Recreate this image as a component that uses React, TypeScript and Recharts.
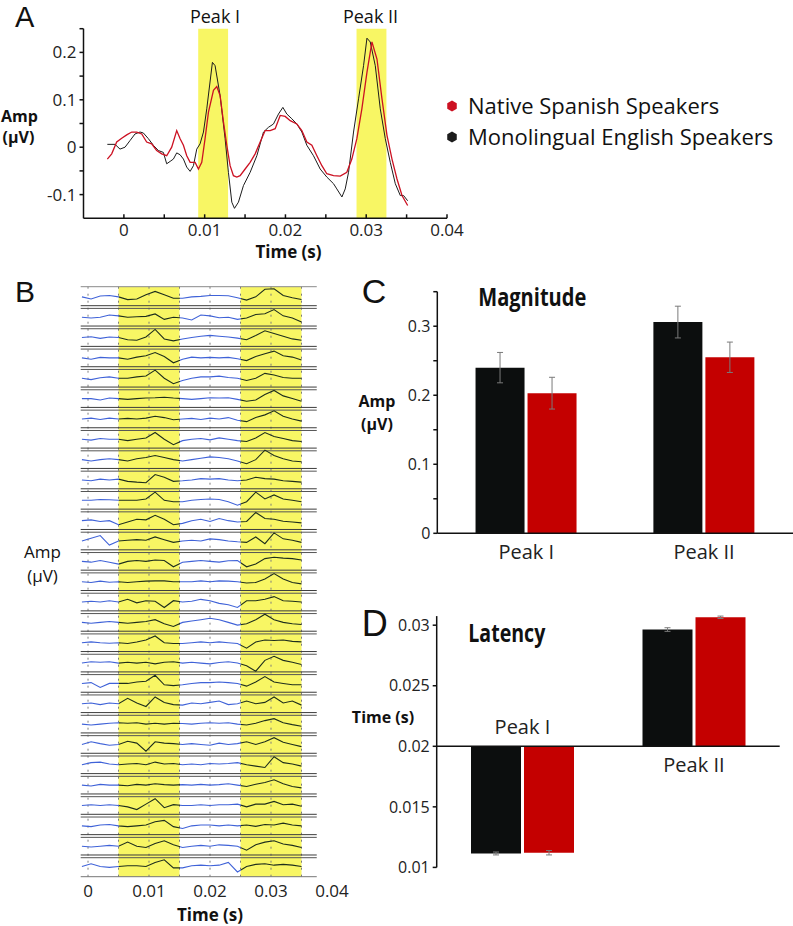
import React from 'react';
import {
  LineChart,
  Line,
  BarChart,
  Bar,
  XAxis,
  YAxis,
  ReferenceArea,
  ReferenceLine,
  ReferenceDot,
  ErrorBar,
  Legend
} from 'recharts';

const FONT = '"Open Sans", "DejaVu Sans", sans-serif';
const LETTER_FONT = '"Liberation Sans", Arial, sans-serif';
const RED = '#cc1122';
const BLACK = '#1c1c1c';
const BAR_RED = '#c40000';
const BAR_BLACK = '#0c0e0e';
const YELLOW = '#f8f664';
const TRACE_BLUE = '#3f62d8';
const TRACE_DARK = '#1e2e1c';

// ---- Panel A: grand average waveforms (time in ms, amplitude in µV)
const ENGLISH_T_MS = [-2.05, -1.1, -0.48, 0.14, 0.76, 1.38, 2.0, 2.41, 3.03, 3.65, 4.27, 4.89, 5.3, 5.72, 6.13, 6.54, 6.96, 7.37, 7.78, 8.2, 8.61, 9.02, 9.43, 9.85, 10.26, 10.96, 11.29, 11.91, 12.53, 12.94, 13.36, 13.69, 14.18, 14.8, 15.63, 16.46, 17.28, 17.9, 18.52, 19.14, 19.68, 20.17, 20.79, 21.41, 22.03, 22.65, 23.47, 24.3, 25.12, 25.95, 26.36, 26.99, 27.4, 27.81, 28.43, 29.05, 29.67, 30.09, 30.5, 31.12, 31.74, 32.36, 32.98, 33.6, 34.22, 34.63, 35.13];
const ENGLISH_AMP = [0.006, 0.006, -0.004, 0, 0.014, 0.028, 0.032, 0.03, 0.018, 0.004, -0.007, -0.011, -0.035, -0.03, -0.025, -0.012, -0.016, -0.025, -0.042, -0.051, -0.039, -0.004, 0.007, 0.032, 0.081, 0.179, 0.172, 0.109, 0.018, -0.053, -0.116, -0.129, -0.116, -0.081, -0.053, -0.018, 0.032, 0.042, 0.049, 0.07, 0.084, 0.07, 0.06, 0.049, 0.032, 0.004, -0.018, -0.046, -0.063, -0.077, -0.088, -0.105, -0.088, -0.053, 0.032, 0.102, 0.172, 0.23, 0.222, 0.172, 0.081, 0.018, -0.032, -0.077, -0.102, -0.102, -0.113];
const SPANISH_T_MS = [-2.05, -1.51, -0.89, -0.27, 0.35, 0.97, 1.59, 2.21, 2.82, 3.44, 4.06, 4.68, 5.3, 5.92, 6.54, 6.96, 7.37, 7.78, 8.2, 8.82, 9.23, 9.64, 10.05, 10.47, 11.09, 11.5, 11.91, 12.33, 12.74, 13.15, 13.56, 13.98, 14.39, 15.01, 15.63, 16.25, 16.87, 17.49, 18.11, 18.73, 19.35, 19.97, 20.59, 21.41, 22.03, 22.65, 23.27, 23.89, 24.51, 25.12, 25.95, 26.78, 27.6, 28.22, 28.84, 29.46, 30.09, 30.71, 31.33, 31.95, 32.57, 33.19, 33.81, 34.43, 35.13];
const SPANISH_AMP = [-0.025, -0.014, 0.011, 0.019, 0.026, 0.032, 0.032, 0.028, 0.011, 0.007, -0.007, -0.014, -0.018, 0, 0.035, 0.018, 0.004, -0.018, -0.032, -0.032, -0.046, -0.032, 0.018, 0.074, 0.12, 0.128, 0.109, 0.053, 0.004, -0.039, -0.06, -0.063, -0.06, -0.046, -0.032, -0.014, 0.011, 0.035, 0.035, 0.039, 0.067, 0.065, 0.056, 0.049, 0.035, 0.011, 0.004, -0.018, -0.039, -0.056, -0.06, -0.061, -0.053, -0.025, 0.018, 0.081, 0.158, 0.222, 0.186, 0.102, 0.025, -0.025, -0.067, -0.102, -0.123];
const A_PEAK_WINDOWS = [[0.0092, 0.0129], [0.0288, 0.0325]];
const A_X_TICKS = [0, 0.005, 0.01, 0.015, 0.02, 0.025, 0.03, 0.035, 0.04];
const A_Y_TICKS = [-0.1, -0.05, 0, 0.05, 0.1, 0.15, 0.2, 0.25];

// ---- Panel B: individual responses, one row per subject (row height = ROW_UNITS)
const B_TIME_MS = [-1, 0.5, 2, 3.5, 5, 6.5, 8, 9.5, 11, 12.5, 14, 15.5, 17, 18.5, 20, 21.5, 23, 24.5, 26, 27.5, 29, 30.5, 32, 33.5, 35];
const B_TRACES = [
  [0, -0.8, 0.3, 0.5, 0, -1, -0.8, 0.8, 2, 0.8, -0.5, -0.5, 0, 0.2, 0.5, 0.5, 0.4, -0.3, -1.2, 0, 2.8, 3, 0.5, -0.3, -1],
  [0, -0.3, 0, 0.8, 0.5, 0, 0.2, 0.3, 1.2, -0.8, 0, -0.3, -1, 0.8, 0.5, -0.2, 0, -0.8, -0.3, 1, 1.3, 2.8, 0.5, -0.3, -1.8],
  [0, 0.3, -0.3, 0.2, 0, -0.8, -1, 0.2, 3, -0.5, -1.2, -0.5, 0, 0.5, 0.8, 0.5, 0.2, -0.2, -0.8, 0.8, 2.5, 1.5, 0.5, -0.5, -1],
  [0, -0.5, 0.2, 0, 0, -0.5, 0.3, 0.8, 2, 0.5, -1.8, -0.5, 0.3, 0, 0.2, 0, 0.2, -0.3, -1, 0.5, 1.5, 2.5, 0.8, 0.3, -0.8],
  [0, -0.5, 0.2, 0.5, 0, 0, 0.5, 0.8, 3, 0, -2, -0.8, 0, 0.5, 0.5, 0.8, 0.3, 0, -0.8, 0, 1.8, 1.2, 0.3, 0, 0],
  [0, 0, -0.5, 0.2, 0, -0.3, 0, 0.2, 0.3, 0.5, 0.2, 0, -0.3, 0, 0.3, 0.2, 0.3, -0.3, -1, -0.5, 1.5, 3, 1, 0, -1],
  [0, 0.3, -0.2, 0.3, 0, 0.2, 0, 0.3, 1, 0.5, -0.3, 0, 0.2, -0.2, 0.3, 0, 0.5, -0.5, -1, 0.5, 1.5, 3, 1, 0, -0.8],
  [0, -0.3, 0.3, 0, 0, -0.5, 0, 0.5, 2.5, 0, -2, -0.5, 0, 0.3, -0.2, 0.5, 0, -0.5, -0.8, 0.5, 2.5, 1, 0.3, -0.5, -0.8],
  [0, -0.5, 0, 0.3, 0, -0.5, 0.3, 0.8, 1.5, 0.8, 0, -0.5, 0, 0.5, 1, 0.8, 0.3, -0.5, -1.5, 0, 3.5, 1.5, 0.3, -0.5, -0.8],
  [0, -0.3, 0.3, 0, 0.3, -0.5, -0.8, -1, 2, 1, -0.5, -0.3, 0, 0.5, 0.3, 0.5, 0, -0.3, 0, 1, 0.5, 0.3, -0.3, -0.5, -0.8],
  [0, 0, 0.3, 0.2, 0, 0, 0, 0.5, 3, 0, -0.5, -0.5, 0, 0.3, 0.5, 0.3, -0.5, -1.8, -0.5, 3, 0.5, 2, 0.5, 0, -0.5],
  [0, 0.3, -0.3, 0, -1.5, -0.5, 0.5, 0.3, 2, 0.5, -1.5, -1, 0, 0.5, -0.3, 0.8, 0, -0.5, -0.3, 3, 0.8, 0.5, -0.2, -0.5, -0.8],
  [0, 1, 2, -1.5, 0, 0.3, 0.5, 0.3, 1.5, 0.5, -0.5, 0, 0.3, 0, 0.8, 0.5, 0, -0.3, -0.5, 1.5, -1, 3, 0.8, 0.3, -0.5],
  [0, -0.3, 0.3, -0.3, -1, 0, 0.3, 0, 0.5, 0.3, -2, -0.3, 0, 0.3, 0, -0.3, 0.2, 0.3, -2, -1, 1, 1.5, 1.2, 1, 0.5],
  [0, -0.3, 0.2, -0.2, 0, -0.3, 0, 0.2, 0.3, 0.3, 0, 0, 0, 0.3, 0, 0.3, 0.2, 0, -0.5, -0.3, 1, 3, 1, -0.3, -0.8],
  [0, 0.3, 0, 0.5, 0, 1, -0.3, 0.5, 0.3, -2, 0.5, 0, 0.3, 1, 0.5, -0.5, -1, -2, 0.5, 0.5, 1, 2, 0.5, 0.3, 0],
  [0, -0.3, 0, 0.3, 0, -0.3, 0, 0.3, 1, -0.5, -1.5, 0, 0.5, 1, 1.5, 1, 0, -1, -0.5, 1, 3, 1, 0, -0.5, -0.8],
  [0, 0.3, 0, -0.2, 0, -0.3, 0.3, 1, 2.5, 0, -0.3, -0.3, 0, 0.3, 0, 0.3, 0, -0.3, -2, 0.3, 1, 0.8, 1, 0.5, 0.3],
  [0, 0.5, 0.3, 0.5, 0, 0.3, 0, 0.3, -0.3, 0.3, 0.5, 0, 0.3, 0, -0.3, 0.2, 0.5, 0, -1, -3, 1, 2.5, 1, 0.3, -0.5],
  [0, 0.3, -1.5, 0, 0, 0, 0.5, 0.8, 3, -0.5, -0.8, -0.5, 0, 0.3, 0.3, 0.5, 0.3, 0, -1, 0.5, 2.5, 0.5, 0, -0.5, -0.5],
  [0, 0.3, -0.3, 0.3, 0, 2, 0.3, -1, 2.5, 0.5, -0.3, -0.5, 0.3, 0, 0.5, 1, -0.3, 0, 1, 0, 0.5, 2.5, 0.3, 1, -0.5],
  [0, -0.3, 0, 0.3, 0.5, 0.3, 0.5, 0, 0.3, 0, 0.3, 0.2, 0, 0.3, 0.5, 0.3, 0.5, 0, -0.3, 0.3, 1.3, 2, 0.5, -0.2, -0.8],
  [0, 1, 0.3, -0.3, 0, 1.2, 0.5, -2.5, 1, 0.5, 0.3, 0, 0.3, 0, -0.3, 0.5, 0, 0.3, 1, 0, 1, 2.5, 0.8, 0, -0.8],
  [0, 0.8, 1, 0.3, 0, 0.3, 0.5, 0, 1, 0.3, 0.5, 0, 0.3, 0, 0.5, 0.3, 0.5, 0.8, 0, -0.5, -1, 3, 0.8, 0.3, -0.5],
  [0, -0.3, 0.3, 0, 0, -0.2, 0.3, 0, 0.5, 0.2, 0, 0.2, 0, 0.3, 0, 0.2, 0.5, 0, -0.5, 0.3, 1, 2, 0.5, -0.5, -1],
  [0, 0.3, 0, 0.3, 0, -0.5, -1.5, 0.5, 2.5, -0.8, 0.3, 0, 0, 0.3, 0, 0.3, 0.3, 0.5, -0.5, 0.5, 0.5, 1.5, 0.3, 0.5, -0.3],
  [0, -0.3, 0.3, 0.5, 0, -0.3, 0, 0.3, 1.5, 2, -0.3, -1, 0, 0.3, 0.3, 0, 0.3, 0, 0.3, -0.2, 0.5, 0.3, 1, 0.3, 0],
  [0, -0.3, 0, 0.3, 0, 1.5, 0, -0.5, 1, 2, 0.5, -0.5, 0, 0.3, 0, 0.5, 0.3, 0, -1.5, 0.5, 1.5, 2, 0.8, 0.3, -0.5],
  [0, 1, 0, -0.3, 0, 0.3, 0.3, 0, 1.5, 2.5, -0.5, -0.5, 0.3, 0.5, 0.3, 0.5, 1.5, -2, 0, 0.8, 1, 0.5, 0.8, 0.5, 0]
];
const B_WINDOWS_MS = [[5, 15], [25, 35]];
const B_GRID = [0, 0.005, 0.01, 0.015, 0.02, 0.025, 0.03, 0.035];
const B_X_TICKS = [0, 0.01, 0.02, 0.03, 0.04];
const ROW_UNITS = 7.5;

// ---- Panels C and D: group means with error bars
const PEAKS = ['Peak I', 'Peak II'];
const MAG_ENGLISH = [0.24, 0.306];
const MAG_ENGLISH_ERR = [0.022, 0.023];
const MAG_SPANISH = [0.203, 0.255];
const MAG_SPANISH_ERR = [0.023, 0.022];
const C_Y_TICKS = [0, 0.05, 0.1, 0.15, 0.2, 0.25, 0.3, 0.35];

const LAT_BASELINE = 0.02;
const LAT_ENGLISH = [0.01115, 0.02964];
const LAT_ENGLISH_ERR = [0.00012, 0.00015];
const LAT_SPANISH = [0.01121, 0.03065];
const LAT_SPANISH_ERR = [0.00018, 0.0001];
const D_Y_TICKS = [-0.01, -0.005, 0, 0.005, 0.01];

const isMultiple = (v: number, step: number) => Math.abs(v / step - Math.round(v / step)) < 1e-6;

const HEX = Array.from({ length: 6 }, (_, k) => {
  const a = Math.PI / 6 + (k * Math.PI) / 3;
  return `${6 + 5.5 * Math.cos(a)},${6 + 5.5 * Math.sin(a)}`;
}).join(' ');

const renderLegend = (props: any) => {
  const items = [...(props.payload || [])].reverse();
  return (
    <div style={{ fontFamily: FONT, fontSize: 22, lineHeight: '31px', color: '#111' }}>
      {items.map((entry: any) => (
        <div key={entry.value} style={{ display: 'flex', alignItems: 'center', whiteSpace: 'nowrap' }}>
          <svg width={12} height={12} style={{ marginRight: 10, flex: 'none' }}>
            <polygon points={HEX} fill={entry.color} />
          </svg>
          {entry.value}
        </div>
      ))}
    </div>
  );
};

const PanelA = () => {
  const englishData = ENGLISH_T_MS.map((ms, i) => ({ t: ms / 1000, amp: ENGLISH_AMP[i] }));
  const spanishData = SPANISH_T_MS.map((ms, i) => ({ t: ms / 1000, amp: SPANISH_AMP[i] }));
  return (
    <LineChart width={470} height={250} margin={{ top: 28.7, right: 23, bottom: 0, left: 0 }}>
      <XAxis
        type="number"
        dataKey="t"
        domain={[-0.005, 0.04]}
        ticks={A_X_TICKS}
        tickFormatter={(v: number) => (isMultiple(v, 0.01) ? String(v) : '')}
        height={31.7}
        stroke="#111"
        strokeWidth={1.5}
        tickSize={-4}
        tickMargin={10}
        tick={{ fontSize: 17, fill: '#222', fontFamily: FONT }}
      />
      <YAxis
        type="number"
        domain={[-0.15, 0.25]}
        ticks={A_Y_TICKS}
        tickFormatter={(v: number) => (isMultiple(v, 0.1) && v < 0.25 ? String(v) : '')}
        width={83.5}
        stroke="#111"
        strokeWidth={1.5}
        tickSize={4}
        tickMargin={3}
        tick={{ fontSize: 17, fill: '#222', fontFamily: FONT }}
      />
      {A_PEAK_WINDOWS.map(([x1, x2]) => (
        <ReferenceArea key={x1} x1={x1} x2={x2} fill={YELLOW} fillOpacity={1} stroke="none" />
      ))}
      <Line data={englishData} dataKey="amp" name="Monolingual English Speakers" type="linear"
        stroke={BLACK} strokeWidth={1} dot={false} isAnimationActive={false} />
      <Line data={spanishData} dataKey="amp" name="Native Spanish Speakers" type="linear"
        stroke={RED} strokeWidth={1.3} dot={false} isAnimationActive={false} />
      <Legend
        layout="vertical"
        align="center"
        verticalAlign="middle"
        content={renderLegend}
        wrapperStyle={{ left: 446, top: 90, width: 345, height: 64 }}
      />
    </LineChart>
  );
};

const PanelB = () => {
  const nRows = B_TRACES.length;
  const bData = B_TIME_MS.map((ms, i) => {
    const row: Record<string, number> = { t: ms / 1000 };
    B_TRACES.forEach((trace, r) => {
      row['r' + r] = (nRows - r - 0.5) * ROW_UNITS + trace[i];
    });
    return row;
  });
  const t0 = B_TIME_MS[0];
  const t1 = B_TIME_MS[B_TIME_MS.length - 1];
  const frac = (ms: number) => (ms - t0) / (t1 - t0);
  const stops: { off: number; color: string }[] = [{ off: 0, color: TRACE_BLUE }];
  B_WINDOWS_MS.forEach(([a, b]) => {
    stops.push({ off: frac(a), color: TRACE_BLUE }, { off: frac(a), color: TRACE_DARK });
    stops.push({ off: frac(b), color: TRACE_DARK }, { off: frac(b), color: TRACE_BLUE });
  });
  const segX: [number, number] = [-0.0012, 0.0375];
  const separators: { y: number; color: string }[] = [{ y: nRows * ROW_UNITS, color: '#8a8a8a' }, { y: 0, color: '#777' }];
  for (let k = 1; k < nRows; k++) {
    separators.push({ y: k * ROW_UNITS + 0.5, color: '#3c3c3c' }, { y: k * ROW_UNITS - 0.5, color: '#555' });
  }
  return (
    <LineChart width={365} height={656} data={bData} margin={{ top: 16.7, right: 33, bottom: 0, left: 80.7 }}>
      <defs>
        <linearGradient id="bTrace" x1="0" y1="0" x2="1" y2="0">
          {stops.map((s, i) => (
            <stop key={i} offset={s.off} stopColor={s.color} />
          ))}
        </linearGradient>
      </defs>
      <XAxis
        type="number"
        dataKey="t"
        domain={[-0.0012, 0.04]}
        ticks={B_X_TICKS}
        axisLine={false}
        tickLine={false}
        tickSize={0}
        tickMargin={8.3}
        height={49.3}
        tick={{ fontSize: 17, fill: '#222', fontFamily: FONT }}
      />
      <YAxis type="number" domain={[0, nRows * ROW_UNITS]} hide />
      {B_WINDOWS_MS.map(([a, b]) => (
        <ReferenceArea key={a} x1={a / 1000} x2={b / 1000} fill={YELLOW} fillOpacity={1} stroke="none" />
      ))}
      {B_GRID.map((x) => (
        <ReferenceLine key={'g' + x} x={x} stroke="#7c7c7c" strokeDasharray="2 5" strokeWidth={1} />
      ))}
      {separators.map((s, i) => (
        <ReferenceLine
          key={'s' + i}
          segment={[{ x: segX[0], y: s.y }, { x: segX[1], y: s.y }]}
          stroke={s.color}
          strokeWidth={1}
          ifOverflow="visible"
        />
      ))}
      {B_TRACES.map((_, r) => (
        <Line key={r} dataKey={'r' + r} type="linear" stroke="url(#bTrace)" strokeWidth={1.1}
          dot={false} isAnimationActive={false} />
      ))}
    </LineChart>
  );
};

const PanelC = () => {
  const magData = PEAKS.map((p, i) => ({
    peak: p,
    eng: MAG_ENGLISH[i],
    engErr: MAG_ENGLISH_ERR[i],
    spa: MAG_SPANISH[i],
    spaErr: MAG_SPANISH_ERR[i]
  }));
  return (
    <BarChart width={443} height={310} data={magData} margin={{ top: 21.7, right: 0, bottom: 0, left: 0 }}
      barGap={3} barCategoryGap="21.5%">
      <XAxis
        dataKey="peak"
        height={46.7}
        stroke="#111"
        strokeWidth={1.5}
        tickLine={false}
        tickSize={0}
        tickMargin={11.7}
        tick={{ fontSize: 20, fill: '#222', fontFamily: FONT }}
      />
      <YAxis
        type="number"
        domain={[0, 0.35]}
        ticks={C_Y_TICKS}
        tickFormatter={(v: number) => (isMultiple(v, 0.1) && v < 0.35 ? String(v) : '')}
        width={87.3}
        stroke="#111"
        strokeWidth={1.5}
        tickSize={4}
        tickMargin={3}
        tick={{ fontSize: 16, fill: '#222', fontFamily: FONT }}
      />
      <Bar dataKey="eng" fill={BAR_BLACK} isAnimationActive={false}>
        <ErrorBar dataKey="engErr" width={3} stroke="#7a7a7a" strokeWidth={1} />
      </Bar>
      <Bar dataKey="spa" fill={BAR_RED} isAnimationActive={false}>
        <ErrorBar dataKey="spaErr" width={3} stroke="#7a7a7a" strokeWidth={1} />
      </Bar>
    </BarChart>
  );
};

const PanelD = () => {
  const latData = PEAKS.map((p, i) => ({
    peak: p,
    eng: LAT_ENGLISH[i] - LAT_BASELINE,
    engErr: LAT_ENGLISH_ERR[i],
    spa: LAT_SPANISH[i] - LAT_BASELINE,
    spaErr: LAT_SPANISH_ERR[i]
  }));
  const labelStyle = { fontSize: 20, fill: '#222', fontFamily: FONT };
  return (
    <BarChart width={443} height={290} data={latData} margin={{ top: 26.1, right: 13.3, bottom: 12.6, left: 0 }}
      barGap={3} barCategoryGap="20%">
      <XAxis dataKey="peak" hide />
      <YAxis
        type="number"
        domain={[-0.01, 0.0107]}
        ticks={D_Y_TICKS}
        tickFormatter={(v: number) => String(parseFloat((v + LAT_BASELINE).toFixed(3)))}
        width={86.7}
        stroke="#111"
        strokeWidth={1.5}
        tickSize={4}
        tickMargin={3}
        tick={{ fontSize: 16, fill: '#222', fontFamily: FONT }}
      />
      <Bar dataKey="eng" fill={BAR_BLACK} isAnimationActive={false}>
        <ErrorBar dataKey="engErr" width={3} stroke="#7a7a7a" strokeWidth={1} />
      </Bar>
      <Bar dataKey="spa" fill={BAR_RED} isAnimationActive={false}>
        <ErrorBar dataKey="spaErr" width={3} stroke="#7a7a7a" strokeWidth={1} />
      </Bar>
      <ReferenceLine y={0} stroke="#111" strokeWidth={1.5} />
      <ReferenceDot x={PEAKS[0]} y={0} r={1} fill="none" stroke="none"
        label={{ value: PEAKS[0], position: 'top', offset: 11.7, ...labelStyle }} />
      <ReferenceDot x={PEAKS[1]} y={0} r={1} fill="none" stroke="none"
        label={{ value: PEAKS[1], position: 'bottom', offset: 10.3, ...labelStyle }} />
    </BarChart>
  );
};

export default function App() {
  const txt = { fontFamily: FONT, fill: '#111' };
  return (
    <div style={{ position: 'absolute', left: 0, top: 0, width: 793, height: 926, background: '#fff' }}>
      <div style={{ position: 'absolute', left: 0, top: 0 }}>
        <PanelA />
      </div>
      <div style={{ position: 'absolute', left: 0, top: 270 }}>
        <PanelB />
      </div>
      <div style={{ position: 'absolute', left: 350, top: 270 }}>
        <PanelC />
      </div>
      <div style={{ position: 'absolute', left: 350, top: 590 }}>
        <PanelD />
      </div>
      <svg width={793} height={926} style={{ position: 'absolute', left: 0, top: 0, pointerEvents: 'none' }}>
        <g style={{ fontFamily: LETTER_FONT }} fill="#111">
          <text x={15} y={27} fontSize={29}>A</text>
          <text x={15} y={301.7} fontSize={30}>B</text>
          <text x={361.7} y={303.3} fontSize={34}>C</text>
          <text x={361.7} y={635.5} fontSize={36}>D</text>
        </g>
        <text {...txt} x={215} y={23} fontSize={18} textAnchor="middle">Peak I</text>
        <text {...txt} x={370.5} y={23} fontSize={18} textAnchor="middle">Peak II</text>
        <text {...txt} x={19.5} y={121.7} fontSize={16} fontWeight="bold" textAnchor="middle">Amp</text>
        <text {...txt} x={18.5} y={143.3} fontSize={16} fontWeight="bold" textAnchor="middle">(µV)</text>
        <text {...txt} x={288.5} y={258} fontSize={17} fontWeight="bold" textAnchor="middle">Time (s)</text>
        <text {...txt} x={42.5} y={558} fontSize={17} textAnchor="middle">Amp</text>
        <text {...txt} x={42.5} y={582} fontSize={17} textAnchor="middle">(µV)</text>
        <text {...txt} x={210} y={921} fontSize={17} fontWeight="bold" textAnchor="middle">Time (s)</text>
        <text {...txt} x={478.3} y={306} fontSize={25} fontWeight="bold" textLength={108} lengthAdjust="spacingAndGlyphs">Magnitude</text>
        <text {...txt} x={377} y={407.3} fontSize={16} fontWeight="bold" textAnchor="middle">Amp</text>
        <text {...txt} x={377} y={430} fontSize={16} fontWeight="bold" textAnchor="middle">(µV)</text>
        <text {...txt} x={468.3} y={641.7} fontSize={25} fontWeight="bold" textLength={77} lengthAdjust="spacingAndGlyphs">Latency</text>
        <text {...txt} x={383} y={723.3} fontSize={16} fontWeight="bold" textAnchor="middle">Time (s)</text>
      </svg>
    </div>
  );
}
